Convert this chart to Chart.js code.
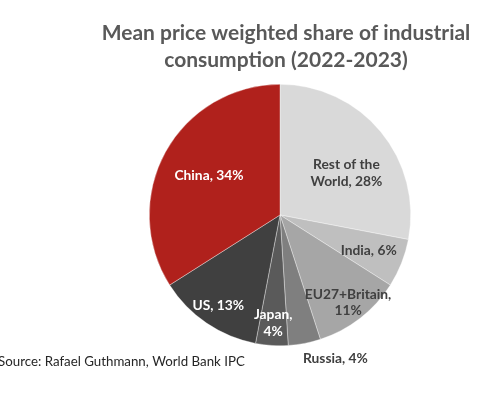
<!DOCTYPE html>
<html>
<head>
<meta charset="utf-8">
<script src="https://cdn.jsdelivr.net/npm/chart.js@4"></script>
<style>
    html, body { margin: 0; padding: 0; background: #ffffff; }
    #wrap { width: 484px; height: 393px; position: relative; }
</style>
</head>
<body>
<div id="wrap"><canvas id="chart-share"></canvas></div>
<script>
'use strict'

// --------------------------------------------
// DONNEES DU GRAPHIQUE
// --------------------------------------------
const LABELS = ['Rest of the World', 'India', 'EU27+Britain', 'Russia', 'Japan', 'US', 'China'] ;
const SHARES = [28, 6, 11, 4, 4, 13, 34] ;
const SLICE_COLORS = ['#d9d9d9', '#bfbfbf', '#a6a6a6', '#7f7f7f', '#5a5a5a', '#404040', '#b0211c'] ;
const TITLE_LINES = ['Mean price weighted share of industrial', 'consumption (2022-2023)'] ;
const SOURCE_TEXT = 'Source: Rafael Guthmann, World Bank IPC' ;

// placement des étiquettes : lignes, rayon relatif, décalage, couleur
const LABEL_STYLE = [
    { lines: ['Rest of the', 'World, 28%'], f: 0.60, dx: 6,  dy: 8,  color: '#404040' },
    { lines: ['India, 6%'],                 f: 0.73, dx: 0,  dy: 0,  color: '#404040' },
    { lines: ['EU27+Britain,', '11%'],      f: 0.85, dx: 0,  dy: 0,  color: '#404040' },
    { lines: ['Russia, 4%'],                f: 1.12, dx: 28, dy: 0,  color: '#404040' },
    { lines: ['Japan,', '4%'],              f: 0.83, dx: 0,  dy: 0,  color: '#ffffff' },
    { lines: ['US, 13%'],                   f: 0.84, dx: 0,  dy: 0,  color: '#ffffff' },
    { lines: ['China, 34%'],                f: 0.62, dx: 0,  dy: 0,  color: '#ffffff' },
] ;

// --------------------------------------------
// PLUGIN : titre, étiquettes des parts, source
// --------------------------------------------
const sliceLabels = {
    id: 'sliceLabels',
    afterDatasetsDraw(chart) {
        const c = chart.ctx ;
        const arcs = chart.getDatasetMeta(0).data ;
        c.save() ;
        c.textAlign = 'center' ;
        c.textBaseline = 'middle' ;

        // titre
        c.font = 'bold 21px Lato' ;
        c.fillStyle = '#595959' ;
        TITLE_LINES.forEach((t, k) => c.fillText(t, 286, 33 + k * 27)) ;

        // étiquettes
        c.font = 'bold 13.8px Lato' ;
        arcs.forEach((arc, i) => {
            const st = LABEL_STYLE[i] ;
            const mid = (arc.startAngle + arc.endAngle) / 2 ;
            const r = arc.outerRadius * st.f ;
            const x = arc.x + Math.cos(mid) * r + st.dx ;
            const y = arc.y + Math.sin(mid) * r + st.dy ;
            const lh = 16.5 ;
            const y0 = y - (st.lines.length - 1) * lh / 2 ;
            c.fillStyle = st.color ;
            st.lines.forEach((t, k) => c.fillText(t, x, y0 + k * lh)) ;
        }) ;

        // source
        c.font = '13.3px Lato' ;
        c.fillStyle = '#262626' ;
        c.textAlign = 'left' ;
        c.fillText(SOURCE_TEXT, -2, 362) ;
        c.restore() ;
    }
} ;

function renderChartShare() {
    const ctx = document.getElementById('chart-share') ;
    if (!ctx) return ;

    new Chart(ctx, {
        type: 'pie',
        data: {
            labels: LABELS,
            datasets: [{
                data: SHARES,
                backgroundColor: SLICE_COLORS,
                borderColor: 'rgba(255,255,255,0.6)',
                borderWidth: 0.6,
            }]
        },
        options: {
            responsive: true,
            maintainAspectRatio: false,
            animation: false,
            layout: { padding: { top: 84, bottom: 47, left: 149, right: 73 } },
            plugins: {
                legend: { display: false },
                tooltip: { enabled: false },
                title: { display: false },
            }
        },
        plugins: [sliceLabels]
    }) ;
}

renderChartShare() ;
</script>
</body>
</html>
